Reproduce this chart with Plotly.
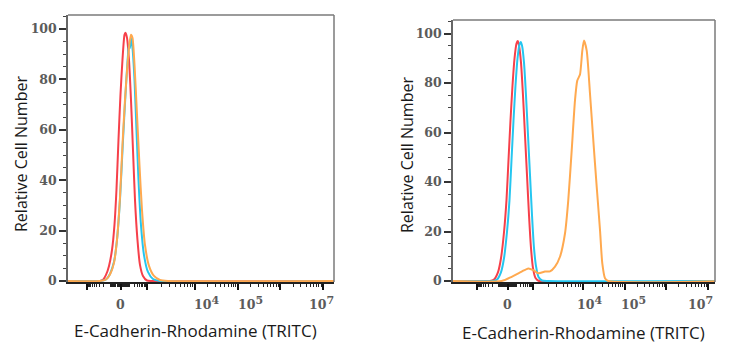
import math
import plotly.graph_objects as go

# ---------------- data (x in biexponential display units, y = relative cell number) ----------------
# Left panel
L_red_x = [0.9, 1.774, 1.851, 1.914, 1.985, 2.055, 2.113, 2.160, 2.207, 2.254, 2.301, 2.348, 2.371, 2.406,
           2.453, 2.500, 2.547, 2.594, 2.652, 2.711, 2.781, 2.875, 2.99, 7.3]
L_red_y = [0, 0, 0.6, 2.4, 6, 12.3, 22.3, 36.2, 56, 74, 87.9, 97.8, 98.6, 96.6,
           87.9, 72, 52, 32.2, 16.3, 6.4, 2, 0.2, 0, 0]

L_cyan_x = [0.9, 1.774, 1.914, 2.008, 2.102, 2.172, 2.242, 2.313, 2.371, 2.418, 2.453, 2.477, 2.500, 2.535,
            2.582, 2.629, 2.676, 2.734, 2.805, 2.898, 3.016, 3.18, 7.3]
L_cyan_y = [0, 0, 0.6, 2.8, 7.6, 16.3, 32.2, 56, 74, 87, 93.8, 92.5, 96.6, 92.6,
            80, 60, 40.2, 22.3, 10.3, 3.6, 0.8, 0, 0]

L_orange_x = [0.9, 1.774, 1.914, 2.008, 2.102, 2.172, 2.242, 2.301, 2.36, 2.418, 2.465, 2.500, 2.535, 2.582,
              2.641, 2.699, 2.758, 2.828, 2.922, 3.039, 3.18, 3.367, 7.3]
L_orange_y = [0, 0, 0.6, 2.6, 7.2, 16.3, 33, 54, 72, 86, 94.2, 97.8, 96.6, 86,
              66, 46, 28.2, 14.3, 6, 2, 0.4, 0, 0]

# Right panel
R_red_x = [0.8, 1.770, 1.866, 1.962, 2.034, 2.106, 2.165, 2.213, 2.261, 2.309, 2.357, 2.405, 2.434, 2.465,
           2.513, 2.561, 2.609, 2.657, 2.705, 2.753, 2.801, 2.861, 2.945, 7.3]
R_red_y = [0, 0, 0.6, 3.6, 9.3, 19.8, 32.7, 48.8, 64.9, 79, 89.9, 96, 97, 95.2,
           88.3, 75, 58.9, 42.7, 26.6, 13.3, 5.2, 1.2, 0, 0]

R_cyan_x = [0.8, 1.842, 1.938, 2.034, 2.106, 2.177, 2.237, 2.285, 2.333, 2.381, 2.429, 2.477, 2.506, 2.537,
            2.585, 2.633, 2.681, 2.729, 2.777, 2.825, 2.873, 2.933, 3.017, 3.161, 7.3]
R_cyan_y = [0, 0, 0.6, 3.6, 9.3, 19.8, 32.7, 48.8, 64.9, 79, 89.9, 95.6, 96.6, 95.2,
            88.3, 75, 58.9, 42.7, 26.6, 13.3, 6, 1.6, 0.2, 0, 0]

R_orange_x = [0.8, 2.050, 2.290, 2.530, 2.688, 2.808, 2.928, 3.089, 3.209, 3.329, 3.448, 3.568, 3.647, 3.729,
              3.808, 3.863, 3.928, 3.983, 4.024, 4.089, 4.168, 4.247, 4.329, 4.408, 4.463, 4.528, 4.607, 7.3]
R_orange_y = [0, 0, 1.7, 3.8, 5.1, 4.4, 3.1, 3.8, 3.9, 5.8, 9.8, 19.2, 32.7, 52.8,
              73, 81, 83.5, 93, 97.2, 93.1, 75.7, 56.9, 38, 20.6, 7.1, 1.1, 0, 0]

# Axis ticks / labels
y_tick_vals = [0, 20, 40, 60, 80, 100]
x_major_values = [-1000, 0, 1000, 1e4, 1e5, 1e6, 1e7]
L_major_pos = [1.469, 2.266, 2.875, 4, 5, 6, 7]
R_major_pos = [1.458, 2.201, 2.80, 4, 5, 6, 7]
x_label_text = ["0",
                "10<sup><span style='font-size:11px'>4</span></sup>",
                "10<sup><span style='font-size:11px'>5</span></sup>",
                "10<sup><span style='font-size:11px'>7</span></sup>"]
L_label_pos = [2.259, 4.281, 5.312, 6.976]
R_label_pos = [2.201, 4.144, 5.223, 6.83]

x_title = "E-Cadherin-Rhodamine (TRITC)"
y_title = "Relative Cell Number"

RED = "#f6404a"
CYAN = "#25c6f0"
ORANGE = "#ffa94f"

# ---------------- helpers ----------------
minor_values = ([-k * 100 for k in range(2, 10)] + [-k * 10 for k in range(1, 10)] +
                [k * 10 for k in range(1, 10)] + [k * 100 for k in range(1, 10)] +
                [k * 10 ** d for d in range(3, 7) for k in range(2, 10)])


def place(v, majors):
    m = dict(zip(x_major_values, majors))
    p0 = m[0]
    if abs(v) <= 1000:
        edge = m[1000] if v >= 0 else m[-1000]
        f = math.asinh(abs(v) / 80.0) / math.asinh(1000 / 80.0)
        return p0 + (edge - p0) * f
    d = int(math.floor(math.log10(v)))
    lo, hi = m[10 ** d], m[10 ** (d + 1)]
    return lo + (hi - lo) * math.log10(v / 10 ** d)


fig = go.Figure()

panels = [
    dict(xa="x", ya="y", xd=[68 / 730, 334 / 730], yd=[1 - 282 / 350, 1 - 15 / 350],
         xr=[1.024, 7.258], yr=[-0.4, 105.6], majors=L_major_pos, labels=L_label_pos,
         curves=[(L_red_x, L_red_y, RED), (L_cyan_x, L_cyan_y, CYAN), (L_orange_x, L_orange_y, ORANGE)],
         xt=(195, 330), yt=(21, 154)),
    dict(xa="x2", ya="y2", xd=[453 / 730, 715 / 730], yd=[1 - 282 / 350, 1 - 20 / 350],
         xr=[0.882, 7.166], yr=[-0.4, 105.5], majors=R_major_pos, labels=R_label_pos,
         curves=[(R_red_x, R_red_y, RED), (R_cyan_x, R_cyan_y, CYAN), (R_orange_x, R_orange_y, ORANGE)],
         xt=(583, 332), yt=(407, 155)),
]

annotations = []
shapes = []
tickfont = dict(family="DejaVu Serif", size=12.5, color="#5b5b5b", weight="bold")
xtitlefont = dict(family="Open Sans", size=17, color="#1a1a1a")
ytitlefont = dict(family="Open Sans", size=16, color="#1a1a1a")

for i, P in enumerate(panels):
    for xs, ys, col in P["curves"]:
        fig.add_trace(go.Scatter(x=xs, y=ys, mode="lines", xaxis=P["xa"], yaxis=P["ya"],
                                 line=dict(color=col, width=2, shape="spline", smoothing=0.6),
                                 showlegend=False, hoverinfo="skip"))
    sfx = "" if i == 0 else "2"
    minor_pos = [place(v, P["majors"]) for v in minor_values]
    fig.update_layout(**{
        "xaxis" + sfx: dict(domain=P["xd"], range=P["xr"], anchor="y" + sfx, showgrid=False, zeroline=False,
                            showline=True, linecolor="#222", linewidth=1.5,
                            tickmode="array", tickvals=P["majors"], ticks="outside", ticklen=6,
                            tickwidth=2, tickcolor="#111", showticklabels=False,
                            minor=dict(tickmode="array", tickvals=minor_pos, ticks="outside",
                                       ticklen=3, tickwidth=1, tickcolor="#222"),
                            automargin=False),
        "yaxis" + sfx: dict(domain=P["yd"], range=P["yr"], anchor="x" + sfx, showgrid=False, zeroline=False,
                            showline=True, linecolor="#666", linewidth=1.5,
                            tickmode="array", tickvals=y_tick_vals, ticks="outside", ticklen=7,
                            tickwidth=1.5, tickcolor="#333", tickfont=tickfont,
                            minor=dict(dtick=5, tick0=0, ticks="outside", ticklen=3, tickwidth=1,
                                       tickcolor="#444"),
                            automargin=False),
    })
    xd = "x" + sfx + " domain"
    yd = "y" + sfx + " domain"
    shapes.append(dict(type="line", xref=xd, yref=yd, x0=0, x1=1, y0=1, y1=1,
                       line=dict(color="#7a7a7a", width=1.5)))
    shapes.append(dict(type="line", xref=xd, yref=yd, x0=1, x1=1, y0=0, y1=1,
                       line=dict(color="#7a7a7a", width=1.5)))
    for txt, pos in zip(x_label_text, P["labels"]):
        annotations.append(dict(text=txt, x=pos, xref="x" + sfx, y=1 - 314 / 350, yref="paper",
                                yanchor="bottom", xanchor="center", showarrow=False, font=tickfont))
    annotations.append(dict(text=x_title, x=P["xt"][0] / 730, y=1 - P["xt"][1] / 350, xref="paper",
                            yref="paper", xanchor="center", yanchor="middle", showarrow=False,
                            font=xtitlefont))
    annotations.append(dict(text=y_title, x=P["yt"][0] / 730, y=1 - P["yt"][1] / 350, xref="paper",
                            yref="paper", xanchor="center", yanchor="middle", showarrow=False,
                            textangle=-90, font=ytitlefont))

fig.update_layout(width=730, height=350, margin=dict(l=0, r=0, t=0, b=0),
                  paper_bgcolor="white", plot_bgcolor="white", template="none",
                  annotations=annotations, shapes=shapes, showlegend=False)

fig.write_html("out.html")
